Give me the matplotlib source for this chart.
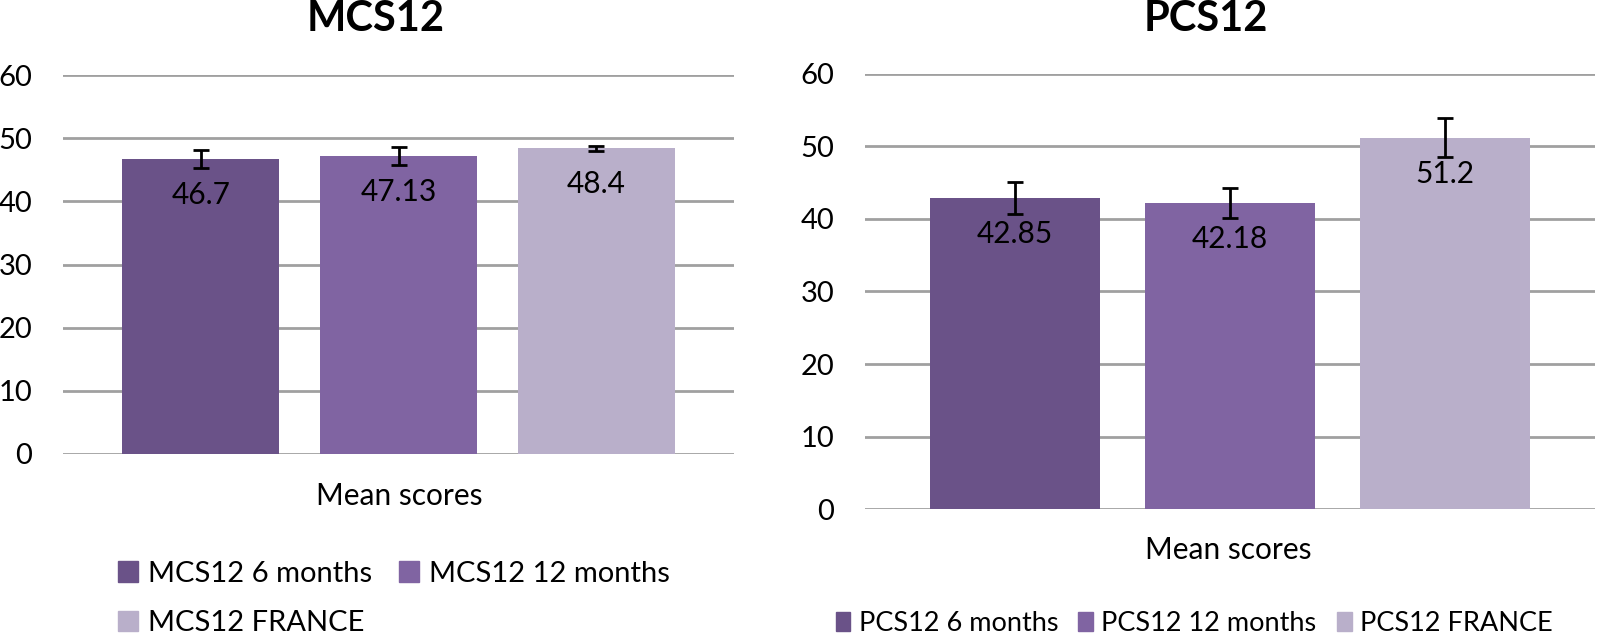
import matplotlib
matplotlib.use('Agg')
import matplotlib.pyplot as plt
from matplotlib.patches import Patch

plt.rcParams['font.family'] = ['Lato', 'DejaVu Sans']

# data
groups = ['6 months', '12 months', 'FRANCE']
mcs_means = [46.7, 47.13, 48.4]
mcs_err = [1.35, 1.4, 0.4]
pcs_means = [42.85, 42.18, 51.2]
pcs_err = [2.2, 2.1, 2.7]
bar_colors = ['#6A5288', '#8064A2', '#B9AFCA']
grid_color = '#A0A0A0'

W, H = 1599, 636
fig = plt.figure(figsize=(W / 100, H / 100), dpi=100)

def px_axes(x0, x1, y_top, y_bot):
    # pixel box -> figure fraction
    return fig.add_axes([x0 / W, 1 - y_bot / H, (x1 - x0) / W, (y_bot - y_top) / H])

def draw_panel(ax, means, errs):
    pos = [-0.2945, 0, 0.2945]
    ax.bar(pos, means, width=0.234, color=bar_colors, zorder=2)
    ax.errorbar(pos, means, yerr=errs, fmt='none', ecolor='black',
                elinewidth=2, capsize=6, capthick=2, zorder=3)
    for x, v in zip(pos, means):
        ax.annotate(f'{v:g}', xy=(x, v), xytext=(0, -36), textcoords='offset pixels',
                    ha='center', va='center', fontsize=21.5, zorder=4)
    ax.set_xlim(-0.5, 0.5)
    ax.set_ylim(0, 60)
    ax.set_yticks(range(0, 61, 10))
    ax.set_xticks([])
    ax.grid(axis='y', color=grid_color, linewidth=2, zorder=0)
    ax.set_axisbelow(True)
    for s in ax.spines.values():
        s.set_visible(False)
    ax.tick_params(axis='y', length=0, pad=22, labelsize=21)

ax1 = px_axes(63, 734, 75, 454)
draw_panel(ax1, mcs_means, mcs_err)
ax2 = px_axes(865, 1595, 73.6, 509.3)
draw_panel(ax2, pcs_means, pcs_err)

fig.text(376 / W, 1 - 19 / H, 'MCS12', ha='center', va='center', fontsize=30, fontweight='bold')
fig.text(1206 / W, 1 - 19 / H, 'PCS12', ha='center', va='center', fontsize=30, fontweight='bold')
fig.text(399 / W, 1 - 496 / H, 'Mean scores', ha='center', va='center', fontsize=21.5)
fig.text(1228 / W, 1 - 550 / H, 'Mean scores', ha='center', va='center', fontsize=21.5)

# legends
h_mcs = [Patch(color=c) for c in bar_colors]
lab_mcs = ['MCS12 ' + g for g in groups]
fig.legend([h_mcs[0], h_mcs[2], h_mcs[1]], [lab_mcs[0], lab_mcs[2], lab_mcs[1]],
           ncol=2, loc='upper left', bbox_to_anchor=(103 / W, 1 - 546 / H),
           frameon=False, fontsize=21, handlelength=0.7, handleheight=0.7,
           handletextpad=0.35, columnspacing=0.9, labelspacing=0.8, borderpad=0)

h_pcs = [Patch(color=c) for c in bar_colors]
lab_pcs = ['PCS12 ' + g for g in groups]
fig.legend(h_pcs, lab_pcs, ncol=3, loc='upper left', bbox_to_anchor=(822 / W, 1 - 597 / H),
           frameon=False, fontsize=19.5, handlelength=0.55, handleheight=0.7,
           handletextpad=0.3, columnspacing=0.75, borderpad=0)

fig.savefig('out.png', dpi=100)
